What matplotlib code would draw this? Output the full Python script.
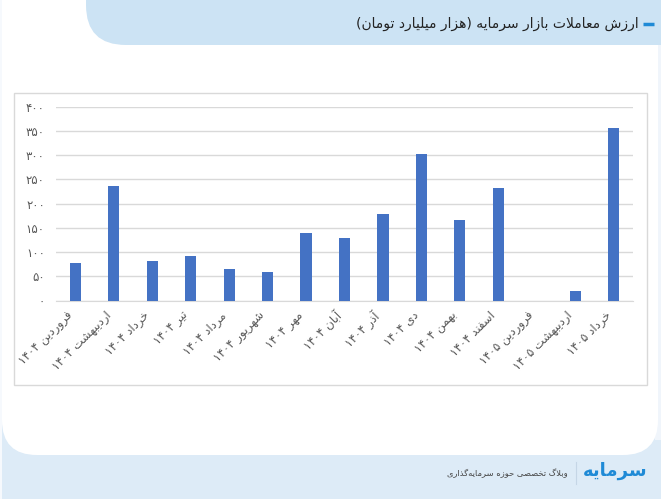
import re
import matplotlib
matplotlib.use("Agg")
import matplotlib.pyplot as plt
from matplotlib.patches import FancyBboxPatch, Rectangle

# data
months = ["فروردین ۱۴۰۴", "اردیبهشت ۱۴۰۴", "خرداد ۱۴۰۴", "تیر ۱۴۰۴", "مرداد ۱۴۰۴",
          "شهریور ۱۴۰۴", "مهر ۱۴۰۴", "آبان ۱۴۰۴", "آذر ۱۴۰۴", "دی ۱۴۰۴", "بهمن ۱۴۰۴",
          "اسفند ۱۴۰۴", "فروردین ۱۴۰۵", "اردیبهشت ۱۴۰۵", "خرداد ۱۴۰۵"]
values = [77, 237, 81, 93, 65, 60, 139, 130, 179, 303, 166, 232, 0, 19, 357]
yticks = [0, 50, 100, 150, 200, 250, 300, 350, 400]
title = "ارزش معاملات بازار سرمایه (هزار میلیارد تومان)"
footer = "وبلاگ تخصصی حوزه سرمایه\u200cگذاری"
logo = "سرمایه"

# --- minimal persian shaping, matplotlib has no bidi/shaping ---
FORMS = {}
for ch, base in zip("ءآأؤإئابةتثجحخدذرزسشصضطظعغفقكلمنهوىي",
                    [0xFE80, 0xFE81, 0xFE83, 0xFE85, 0xFE87, 0xFE89, 0xFE8D, 0xFE8F, 0xFE93,
                     0xFE95, 0xFE99, 0xFE9D, 0xFEA1, 0xFEA5, 0xFEA9, 0xFEAB, 0xFEAD, 0xFEAF,
                     0xFEB1, 0xFEB5, 0xFEB9, 0xFEBD, 0xFEC1, 0xFEC5, 0xFEC9, 0xFECD, 0xFED1,
                     0xFED5, 0xFED9, 0xFEDD, 0xFEE1, 0xFEE5, 0xFEE9, 0xFEED, 0xFEEF, 0xFEF1]):
    FORMS[ch] = (base, ch not in "ءآأؤإاةدذرزوى")
FORMS.update({"پ": (0xFB56, True), "چ": (0xFB7A, True), "ژ": (0xFB8A, False),
              "ک": (0xFB8E, True), "گ": (0xFB92, True), "ی": (0xFBFC, True)})


def shape(s):
    res = []
    i = 0
    n = len(s)
    while i < n:
        c = s[i]
        prev = s[i - 1] if i > 0 else None
        join_prev = prev in FORMS and FORMS[prev][1] and c in FORMS
        if c == "ل" and i + 1 < n and s[i + 1] in "اآ":
            lig = 0xFEFB if s[i + 1] == "ا" else 0xFEF5
            res.append(chr(lig + (1 if join_prev else 0)))
            i += 2
            continue
        if c not in FORMS:
            if c != "\u200c":
                res.append(c)
            i += 1
            continue
        nxt = s[i + 1] if i + 1 < n else None
        join_next = FORMS[c][1] and nxt in FORMS
        base = FORMS[c][0]
        if c == "ء":
            off = 0
        elif join_prev and join_next:
            off = 3
        elif join_prev:
            off = 1
        elif join_next:
            off = 2
        else:
            off = 0
        res.append(chr(base + off))
        i += 1
    return "".join(res)


def fa(s):
    toks = re.findall(r"[0-9\u06F0-\u06F9]+|.", shape(s))
    return "".join(reversed(toks)).translate({ord("("): ")", ord(")"): "("})


def fa_num(n):
    return str(n).translate({ord(d): chr(0x06F0 + int(d)) for d in "0123456789"})


plt.rcParams["font.family"] = ["DejaVu Sans"]
W, H = 661, 499
fig = plt.figure(figsize=(W / 100, H / 100), dpi=100)
fig.patch.set_facecolor("#ddebf7")

# background layer in pixel coordinates
bg = fig.add_axes([0, 0, 1, 1])
bg.set_xlim(0, W)
bg.set_ylim(H, 0)
bg.axis("off")
bg.add_patch(Rectangle((0, 0), 2, H, color="#f6f9fd", lw=0))
bg.add_patch(Rectangle((655, 40), 6, 400, color="#f0f5fb", lw=0))
bg.add_patch(FancyBboxPatch((2, -60), 656, 515, boxstyle="round,pad=0,rounding_size=35",
                            fc="white", ec="none"))
bg.add_patch(FancyBboxPatch((86, -60), 640, 105, boxstyle="round,pad=0,rounding_size=40",
                            fc="#cce3f4", ec="none"))
bg.add_patch(Rectangle((14, 93), 633, 292, fc="white", ec="#d9d9d9", lw=1))
bg.plot([643, 654], [24, 24], color="#1f8ad6", lw=2.5, solid_capstyle="butt")
bg.text(639, 24, fa(title), ha="right", va="center", fontsize=10, color="#222222")
bg.plot([576, 576], [462, 484], color="#c5d6e6", lw=0.8)
bg.text(568, 473, fa(footer), ha="right", va="center", fontsize=6, color="#444444")
bg.text(615, 471, fa(logo), ha="center", va="center", fontsize=13, color="#1f8ad6",
        fontweight="bold")

# chart
ax = fig.add_axes([56 / W, 1 - 300.7 / H, (633 - 56) / W, 194 / H])
ax.set_facecolor("none")
x = list(range(len(months)))
ax.bar(x, values, width=0.29, color="#4472c4", zorder=3)
ax.set_xlim(-0.5, len(months) - 0.5)
ax.set_ylim(0, 400)
ax.set_yticks(yticks)
ax.set_yticklabels([fa_num(v) for v in yticks], fontsize=8.5, color="#595959")
ax.set_xticks(x)
ax.set_xticklabels([fa(m) for m in months], rotation=45, ha="right", va="top",
                   fontsize=8.5, color="#595959")
ax.tick_params(axis="both", length=0)
ax.tick_params(axis="y", pad=8)
ax.tick_params(axis="x", pad=6)
ax.grid(axis="y", color="#d9d9d9", lw=1, zorder=0)
for side in ["top", "right", "left"]:
    ax.spines[side].set_visible(False)
ax.spines["bottom"].set_color("#d9d9d9")

fig.savefig("out.png", dpi=100)
